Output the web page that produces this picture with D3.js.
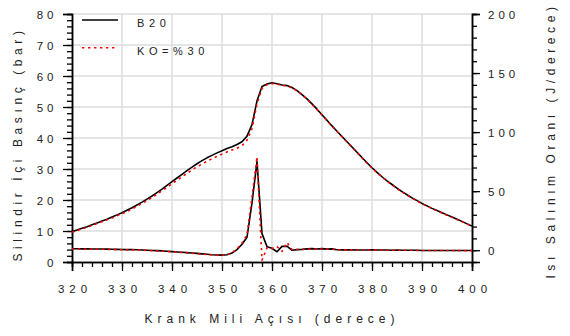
<!DOCTYPE html>
<html>
<head>
<meta charset="utf-8">
<script src="https://cdn.jsdelivr.net/npm/d3@7"></script>
<style>
  html, body { margin: 0; padding: 0; background: #fff; }
  svg { display: block; }
  text { font-family: "Liberation Sans", Arial, sans-serif; fill: #222; }
</style>
</head>
<body>
<svg id="chart" width="570" height="336"></svg>
<script>
// Crank angle (degrees), one sample per degree
const crankAngle = d3.range(320, 401);

// In-cylinder pressure (bar)
const pressureB20 = [
  9.8, 10.3, 10.9, 11.4, 12.0, 12.6, 13.2, 13.8, 14.5, 15.2,
  15.9, 16.7, 17.5, 18.4, 19.3, 20.3, 21.3, 22.4, 23.5, 24.7,
  25.9, 27.1, 28.3, 29.5, 30.6, 31.7, 32.7, 33.6, 34.4, 35.2,
  35.9, 36.6, 37.2, 37.9, 38.8, 40.6, 44.3, 52.0, 56.6, 57.4,
  57.8, 57.5, 57.1, 56.9, 56.3, 55.3, 54.0, 52.6, 51.0, 49.3,
  47.5, 45.7, 43.9, 42.2, 40.5, 38.8, 37.1, 35.4, 33.7, 32.0,
  30.4, 28.9, 27.5, 26.2, 25.0, 23.8, 22.7, 21.7, 20.7, 19.8,
  18.9, 18.1, 17.3, 16.6, 15.9, 15.2, 14.5, 13.8, 13.1, 12.3,
  11.6
];
const pressureKO30 = [
  9.6, 10.1, 10.7, 11.2, 11.8, 12.4, 13.0, 13.6, 14.2, 14.9,
  15.6, 16.3, 17.1, 18.0, 18.9, 19.8, 20.8, 21.9, 23.0, 24.1,
  25.2, 26.4, 27.5, 28.6, 29.7, 30.7, 31.6, 32.5, 33.3, 34.1,
  34.8, 35.5, 36.1, 36.7, 37.5, 39.3, 43.0, 51.0, 56.0, 57.2,
  57.6, 57.4, 57.0, 56.8, 56.2, 55.2, 53.9, 52.5, 50.9, 49.2,
  47.4, 45.6, 43.8, 42.1, 40.4, 38.7, 37.0, 35.3, 33.6, 31.9,
  30.3, 28.8, 27.4, 26.1, 24.9, 23.7, 22.6, 21.6, 20.6, 19.7,
  18.8, 18.0, 17.2, 16.5, 15.8, 15.1, 14.4, 13.7, 13.0, 12.3,
  11.6
];

// Heat release rate (J/degree)
const heatB20 = [
  1.2, 1.2, 1.1, 1.1, 1.0, 1.0, 1.0, 0.9, 0.8, 0.7,
  0.6, 0.5, 0.5, 0.4, 0.2, 0.0, -0.2, -0.4, -0.6, -0.9,
  -1.2, -1.5, -1.8, -2.1, -2.4, -2.7, -3.1, -3.5, -3.9, -4.1,
  -4.2, -3.8, -2.4, 0.5, 5.0, 11.0, 40.0, 75.0, 14.0, 3.0,
  1.6, -1.3, 3.2, 3.4, -0.1, 0.5, 0.7, 1.1, 1.3, 1.0,
  1.3, 0.9, 1.1, 0.4, 0.3, 0.4, 0.3, 0.2, 0.2, 0.2,
  0.3, 0.2, 0.1, 0.1, 0.0, 0.1, 0.0, 0.0, -0.1, -0.1,
  -0.2, -0.2, -0.2, -0.3, -0.3, -0.3, -0.3, -0.3, -0.3, -0.3,
  -0.3
];
const heatKO30 = [
  1.0, 1.0, 1.0, 0.9, 0.9, 0.8, 0.8, 0.7, 0.6, 0.5,
  0.4, 0.3, 0.3, 0.2, 0.0, -0.2, -0.4, -0.6, -0.8, -1.1,
  -1.4, -1.7, -2.0, -2.3, -2.6, -2.9, -3.3, -3.7, -4.0, -4.2,
  -4.3, -3.9, -2.2, 1.0, 6.0, 13.0, 45.0, 79.0, -8.5, 2.0,
  1.5, 3.0, -1.0, 6.5, 0.5, 0.6, 0.6, 0.9, 1.1, 0.9,
  1.0, 0.8, 0.8, 0.4, 0.3, 0.3, 0.3, 0.2, 0.2, 0.2,
  0.2, 0.1, 0.1, 0.0, 0.0, 0.0, -0.1, -0.1, -0.1, -0.2,
  -0.2, -0.2, -0.3, -0.3, -0.3, -0.3, -0.3, -0.4, -0.4, -0.4,
  -0.4
];

const xTicks = [320, 330, 340, 350, 360, 370, 380, 390, 400];
const yLeftTicks = [0, 10, 20, 30, 40, 50, 60, 70, 80];
const yRightTicks = [0, 50, 100, 150, 200];

const seriesNames = ["B20", "KO=%30"];
const xTitle = "Krank Mili Açısı (derece)";
const yLeftTitle = "Silindir İçi Basınç (bar)";
const yRightTitle = "Isı Salınım Oranı (J/derece)";

const plotL = 72, plotR = 472, plotT = 14, plotB = 262;
const svg = d3.select("#chart");

const x = d3.scaleLinear().domain([320, 400]).range([plotL, plotR]);
const yP = d3.scaleLinear().domain([0, 80]).range([plotB, plotT]);
const yH = d3.scaleLinear().domain([-10, 200]).range([plotB, plotT]);

// grid
const grid = svg.append("g").attr("stroke", "#dcdcdc").attr("stroke-width", 1.5);
xTicks.filter(v => v > 320 && v < 400).forEach(v => {
  grid.append("line").attr("x1", x(v)).attr("x2", x(v)).attr("y1", plotT).attr("y2", plotB);
});
yLeftTicks.filter(v => v > 0).forEach(v => {
  grid.append("line").attr("x1", plotL).attr("x2", plotR).attr("y1", yP(v)).attr("y2", yP(v));
});

// axes
const fontSize = "11.5px";
function styleAxis(g) {
  g.select(".domain").attr("stroke", "#000").attr("stroke-width", 1.5);
  g.selectAll(".tick line").attr("stroke", "#000").attr("stroke-width", 1.3);
}

// minor ticks first
svg.append("g").attr("transform", `translate(0,${plotB})`)
  .call(d3.axisBottom(x).tickValues(d3.range(320, 401, 2)).tickSize(5).tickFormat(""))
  .call(styleAxis);
svg.append("g").attr("transform", `translate(${plotL},0)`)
  .call(d3.axisLeft(yP).tickValues(d3.range(0, 81, 2)).tickSize(5).tickFormat(""))
  .call(styleAxis);
svg.append("g").attr("transform", `translate(${plotR},0)`)
  .call(d3.axisRight(yH).tickValues(d3.range(0, 201, 10)).tickSize(5).tickFormat(""))
  .call(styleAxis);

const gx = svg.append("g").attr("transform", `translate(0,${plotB})`)
  .call(d3.axisBottom(x).tickValues(xTicks).tickSize(9).tickFormat(d3.format("d")))
  .call(styleAxis);
gx.selectAll(".tick text")
  .attr("y", 30.5).attr("dy", 0)
  .attr("dx", "2.5px")
  .style("font-size", fontSize).style("letter-spacing", "5px").attr("fill", "#222");

const gl = svg.append("g").attr("transform", `translate(${plotL},0)`)
  .call(d3.axisLeft(yP).tickValues(yLeftTicks).tickSize(9).tickFormat(d3.format("d")))
  .call(styleAxis);
gl.selectAll(".tick text")
  .attr("x", -14.5).attr("dy", "0.36em")
  .style("font-size", fontSize).style("letter-spacing", "4px").attr("fill", "#222");

const gr = svg.append("g").attr("transform", `translate(${plotR},0)`)
  .call(d3.axisRight(yH).tickValues(yRightTicks).tickSize(8).tickFormat(d3.format("d")))
  .call(styleAxis);
gr.selectAll(".tick text")
  .attr("x", 16).attr("dy", "0.36em")
  .style("font-size", fontSize).style("letter-spacing", "4px").attr("fill", "#222");

// axis titles
svg.append("text")
  .attr("x", 272).attr("y", 323)
  .attr("text-anchor", "middle")
  .style("font-size", "12px").style("letter-spacing", "5px")
  .text(xTitle);
svg.append("text")
  .attr("transform", `translate(22,${(32 + 252) / 2 + 2}) rotate(-90)`)
  .attr("text-anchor", "middle")
  .style("font-size", "12px").style("letter-spacing", "4.6px")
  .text(yLeftTitle);
svg.append("text")
  .attr("transform", `translate(555,${(10 + 267) / 2 + 2}) rotate(-90)`)
  .attr("text-anchor", "middle")
  .style("font-size", "12px").style("letter-spacing", "4.6px")
  .text(yRightTitle);

// curves
svg.append("clipPath").attr("id", "plot-clip")
  .append("rect").attr("x", plotL).attr("y", plotT).attr("width", plotR - plotL).attr("height", plotB - plotT);

const plot = svg.append("g").attr("clip-path", "url(#plot-clip)");
const lineP = d3.line().x((d, i) => x(crankAngle[i])).y(d => yP(d));
const lineH = d3.line().x((d, i) => x(crankAngle[i])).y(d => yH(d));

const solid = { stroke: "#000", width: 1.6, dash: null };
const dotted = { stroke: "#ff0000", width: 1.6, dash: "2.4,3.6" };

function draw(g, data, gen, st) {
  g.append("path").datum(data)
    .attr("fill", "none")
    .attr("stroke", st.stroke)
    .attr("stroke-width", st.width)
    .attr("stroke-linejoin", "round")
    .attr("stroke-dasharray", st.dash)
    .attr("d", gen);
}
draw(plot, pressureB20, lineP, solid);
draw(plot, heatB20, lineH, solid);
draw(plot, pressureKO30, lineP, dotted);
draw(plot, heatKO30, lineH, dotted);

// legend
const legend = svg.append("g");
[[solid, 20, 26.6], [dotted, 47.7, 55]].forEach(([st, ly, ty], i) => {
  legend.append("line")
    .attr("x1", 82).attr("x2", 118).attr("y1", ly).attr("y2", ly)
    .attr("stroke", st.stroke).attr("stroke-width", st.width)
    .attr("stroke-dasharray", st.dash);
  legend.append("text")
    .attr("x", 137).attr("y", ty)
    .style("font-size", "11px").style("letter-spacing", "4.6px")
    .text(seriesNames[i]);
});
</script>
</body>
</html>
